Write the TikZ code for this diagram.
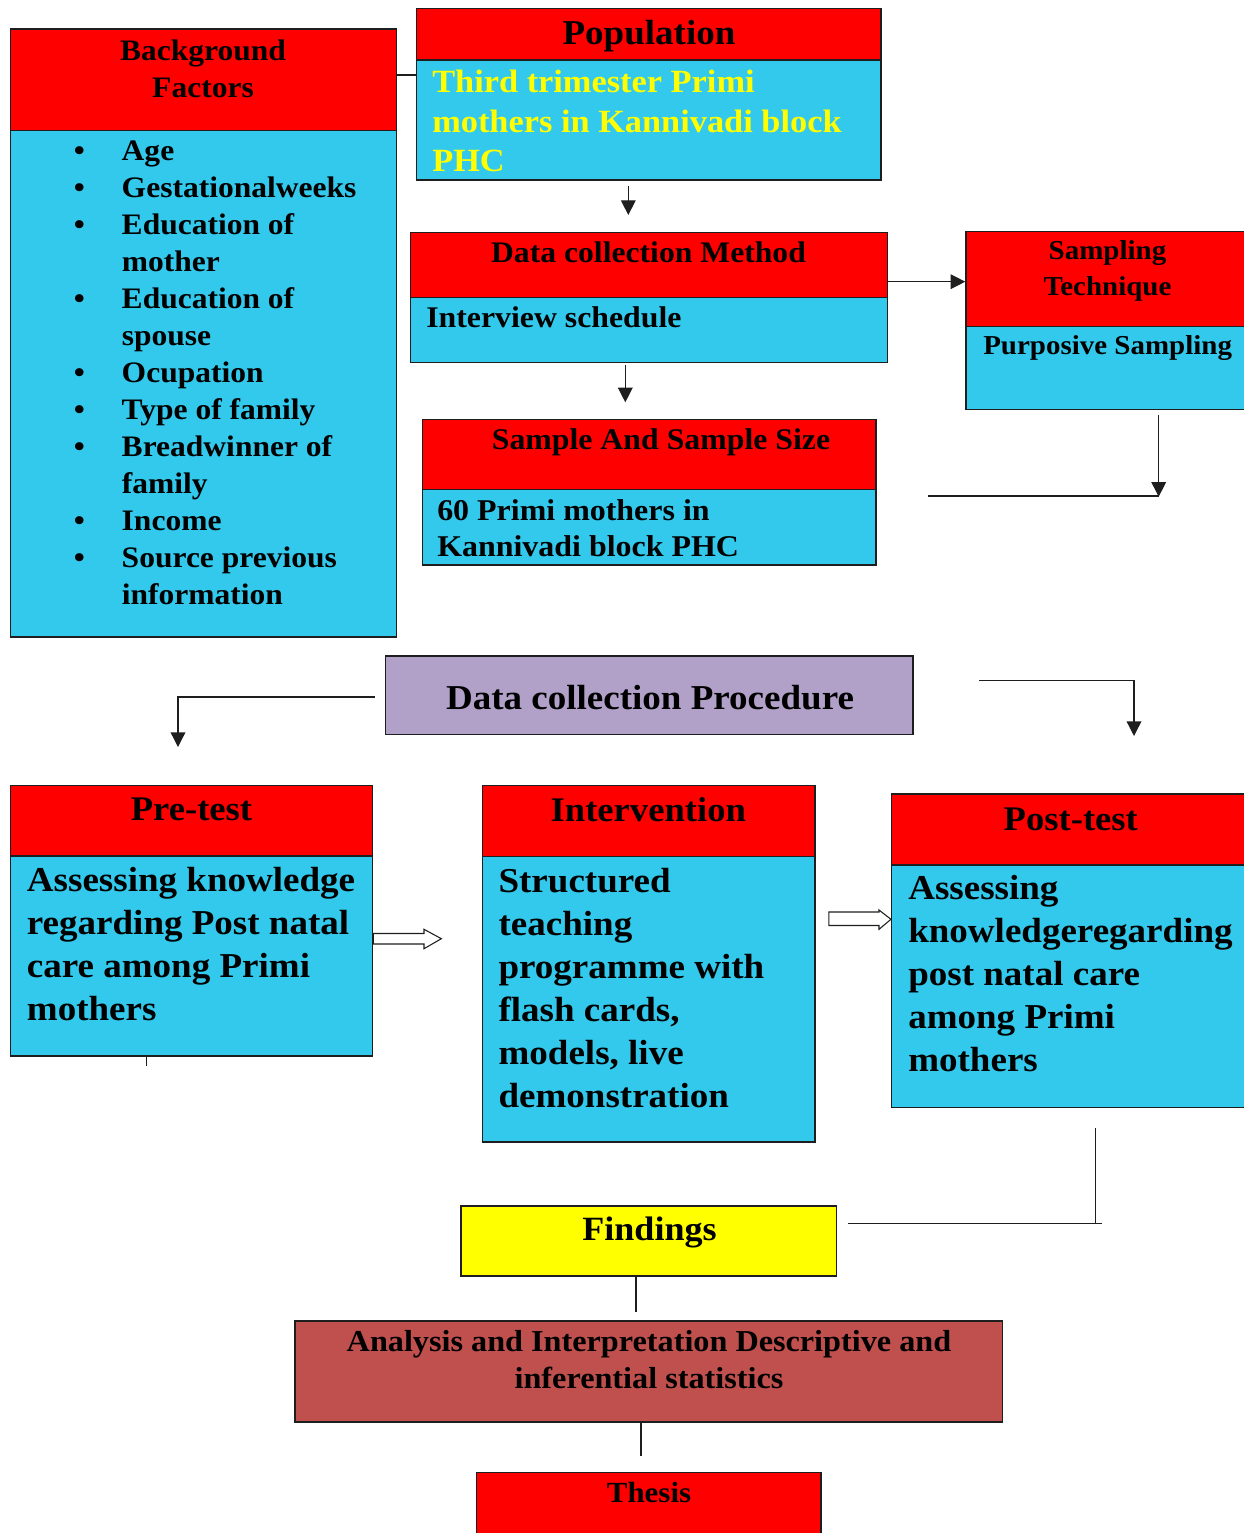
\documentclass[tikz,border=0pt]{standalone}
\usepackage{fontspec}
\setmainfont{Liberation Serif}[FakeStretch=1.06]
\usetikzlibrary{fit,arrows.meta}
\definecolor{cyanbox}{RGB}{51,201,236}
\definecolor{redbox}{RGB}{255,0,0}
\definecolor{purplebox}{RGB}{177,160,199}
\definecolor{brickbox}{RGB}{192,80,77}
\definecolor{yellowbox}{RGB}{255,255,0}
\definecolor{edgecol}{RGB}{30,30,30}
\definecolor{conncol}{RGB}{30,30,30}
\newcommand\fs[2]{\fontsize{#1pt}{#2pt}\selectfont\bfseries}
\newcommand\bl{\makebox[36pt][l]{\textbullet}}
\newcommand\nb{\makebox[36pt]{}}
\tikzset{
  box/.style={draw=edgecol, line width=1.1pt, inner sep=0pt},
  hdr/.style={box, fill=redbox},
  bdy/.style={box, fill=cyanbox},
  conn/.style={draw=conncol, line width=1pt},
  arr/.style={conn, -{Triangle[length=11pt,width=11pt]}},
  hollow/.style={draw=conncol, line width=0.8pt, fill=white, line join=miter},
  txt/.style={inner sep=0pt, font=\bfseries},
}
\begin{document}
\begin{tikzpicture}[x=0.75pt,y=-0.75pt]
\useasboundingbox (0,0) rectangle (1244,1533);
\clip (0,0) rectangle (1244,1533);

% ---------- boxes ----------
\node[hdr, fit={(10.7,29) (396.7,130.7)}] (bgH) {};
\node[bdy, fit={(10.7,130.7) (396.7,637)}] (bgB) {};
\node[hdr, fit={(416.7,8.3) (881,60)}] (popH) {};
\node[bdy, fit={(416.7,60) (881,180)}] (popB) {};
\node[hdr, fit={(410.3,232.3) (887.7,297.7)}] (dcmH) {};
\node[bdy, fit={(410.3,297.7) (887.7,362.7)}] (dcmB) {};
\node[hdr, fit={(966,231.7) (1252,326.7)}] (smpH) {};
\node[bdy, fit={(966,326.7) (1252,409.3)}] (smpB) {};
\node[hdr, fit={(422.3,419.3) (876,489.3)}] (ssH) {};
\node[bdy, fit={(422.3,489.3) (876,565)}] (ssB) {};
\node[box, fill=purplebox, fit={(385.5,656) (912.8,734.3)}] (dcp) {};
\node[hdr, fit={(10.7,785.5) (372.7,856)}] (preH) {};
\node[bdy, fit={(10.7,856) (372.7,1056)}] (preB) {};
\node[hdr, fit={(482.7,785.7) (815,856.7)}] (intH) {};
\node[bdy, fit={(482.7,856.7) (815,1142)}] (intB) {};
\node[hdr, fit={(891.7,794) (1252,865)}] (postH) {};
\node[bdy, fit={(891.7,865) (1252,1107.3)}] (postB) {};
\node[box, fill=yellowbox, fit={(461,1206) (836.7,1276)}] (find) {};
\node[box, fill=brickbox, fit={(295,1321) (1002.6,1422)}] (ana) {};
\node[hdr, fit={(476.5,1472.3) (821,1545)}] (thesis) {};

% ---------- texts ----------
\node[txt, font=\fs{22.3}{27.75}, align=center, anchor=north] (bgT) at (203,39.5) {Background\\Factors};
\node[txt, font=\fs{22.3}{27.75}, align=left, anchor=north west] (bgL) at (73.5,140.2)
  {\bl Age\\\bl Gestationalweeks\\\bl Education of\\\nb mother\\\bl Education of\\\nb spouse\\\bl Ocupation\\\bl Type of family\\\bl Breadwinner of\\\nb family\\\bl Income\\\bl Source previous\\\nb information};

\node[txt, font=\fs{26.2}{31}, anchor=base] (popT) at (649,45) {Population};
\node[txt, text=yellowbox, font=\fs{24.3}{29.6}, align=left, anchor=north west] (popX) at (432,69.9)
  {Third trimester Primi\\mothers in Kannivadi block\\PHC};

\node[txt, font=\fs{22.4}{27}, anchor=base] (dcmT) at (648.5,262.7) {Data collection Method};
\node[txt, font=\fs{22.5}{27}, anchor=base west] (dcmX) at (426,327.7) {Interview schedule};

\node[txt, font=\fs{20.5}{27}, align=center, anchor=north] (smpT) at (1107.5,240.5) {Sampling\\Technique};
\node[txt, font=\fs{20.5}{27}, anchor=base west] (smpX) at (983,355) {Purposive Sampling};

\node[txt, font=\fs{22.5}{27}, anchor=base] (ssT) at (661,449) {Sample And Sample Size};
\node[txt, font=\fs{22.6}{27}, align=left, anchor=north west] (ssX) at (437,499.2)
  {60 Primi mothers in\\Kannivadi block PHC};

\node[txt, font=\fs{26.2}{30}, anchor=base] (dcpT) at (650,709) {Data collection Procedure};

\node[txt, font=\fs{25.9}{30}, anchor=base] (preT) at (191.5,820.7) {Pre-test};
\node[txt, font=\fs{26.2}{32.25}, align=left, anchor=north west] (preX) at (26.7,866.9)
  {Assessing knowledge\\regarding Post natal\\care among Primi\\mothers};

\node[txt, font=\fs{25.9}{30}, anchor=base] (intT) at (648.3,821.7) {Intervention};
\node[txt, font=\fs{26.2}{32.25}, align=left, anchor=north west] (intX) at (498.3,867.9)
  {Structured\\teaching\\programme with\\flash cards,\\models, live\\demonstration};

\node[txt, font=\fs{25.9}{30}, anchor=base] (postT) at (1070.8,830) {Post-test};
\node[txt, font=\fs{26.2}{32.25}, align=left, anchor=north west] (postX) at (908,874.9)
  {Assessing\\knowledgeregarding\\post natal care\\among Primi\\mothers};

\node[txt, font=\fs{25.5}{30}, anchor=base] (findT) at (649.5,1240) {Findings};
\node[txt, font=\fs{22.8}{27.75}, align=center, anchor=north] (anaT) at (649,1329.7)
  {Analysis and Interpretation Descriptive and\\inferential statistics};
\node[txt, font=\fs{21.9}{27}, anchor=base] (thesisT) at (649,1502.7) {Thesis};

% ---------- connectors ----------
\coordinate (y75) at (0,75);
\draw[conn] (bgH.east |- y75) -- (popB.west |- y75);

\coordinate (a1s) at (628.3,186);
\coordinate (a1e) at (628.3,215);
\draw[arr] (a1s) -- (a1e);

\coordinate (y282) at (0,281.7);
\draw[arr] (dcmH.east |- y282) -- (smpH.west |- y282);

\coordinate (a2s) at (625.3,365);
\coordinate (a2e) at (625.3,402.3);
\draw[arr] (a2s) -- (a2e);

\coordinate (s1) at (1158.7,415);
\coordinate (s2) at (1158.7,496.7);
\coordinate (h1) at (928.3,496);
\draw[conn] (h1) -- (h1 -| s1);
\draw[arr] (s1) -- (s2);

\coordinate (l1) at (375,697);
\coordinate (l2) at (178,747);
\draw[arr] (l1) -| (l2);
\coordinate (r1) at (979,680.3);
\coordinate (r2) at (1134,736);
\draw[arr] (r1) -| (r2);

% hollow block arrows
\draw[hollow] (preB.east |- 0,933.5) -- (424,933.5) -- (424,929.3) -- (441.4,938.7)
  -- (424,948.7) -- (424,944) -- (preB.east |- 0,944) -- cycle;
\draw[hollow] (828.8,912) -- (879,912) -- (879,910) -- (postB.west |- 0,919.3)
  -- (879,929.3) -- (879,925.5) -- (828.8,925.5) -- cycle;

\coordinate (tk) at (146.7,1066);
\draw[conn] (preB.south -| tk) -- (tk);

\coordinate (p1) at (1095.3,1128.3);
\coordinate (p2) at (1095.3,1223.7);
\coordinate (f1) at (848.3,1223.7);
\coordinate (f2) at (1101.7,1223.7);
\draw[conn] (p1) -- (p2);
\draw[conn] (f1) -- (f2);

\coordinate (fa) at (636,1311.7);
\draw[conn] (find.south -| fa) -- (fa);
\coordinate (at) at (641,1455.7);
\draw[conn] (ana.south -| at) -- (at);
\end{tikzpicture}
\end{document}
